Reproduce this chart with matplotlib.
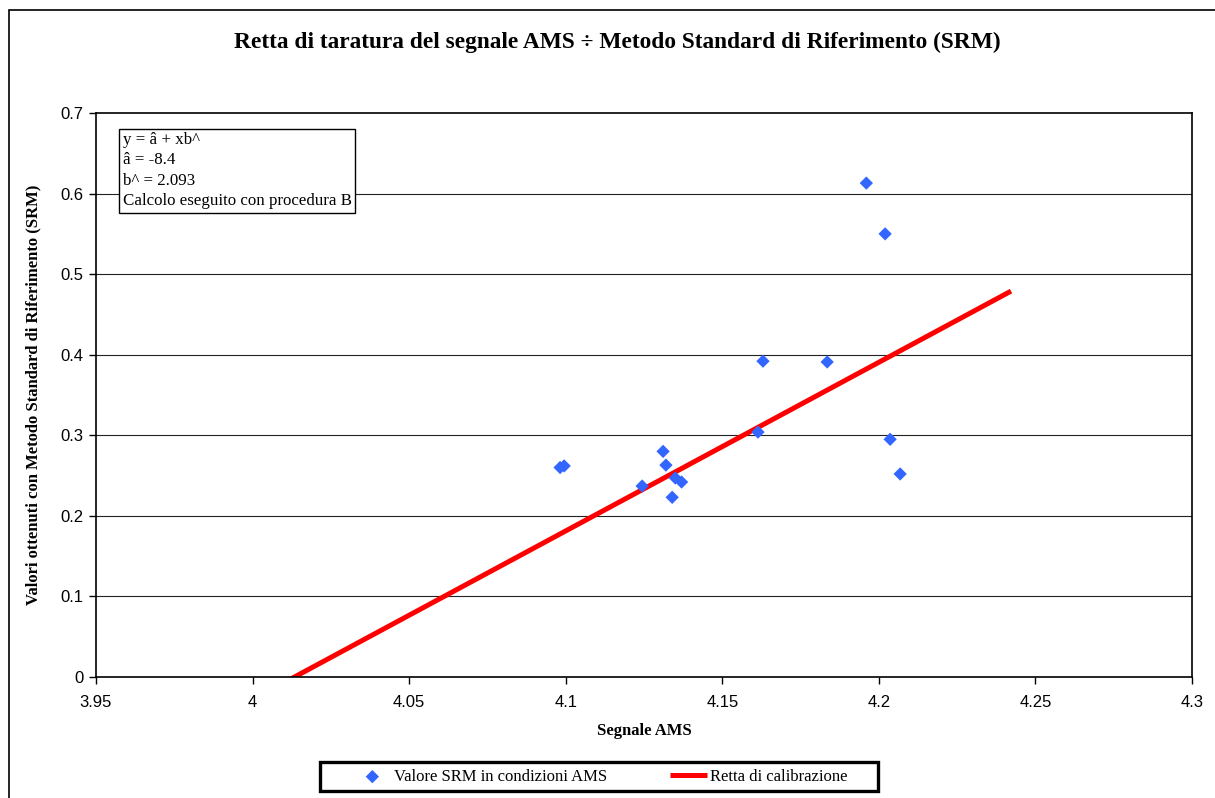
import numpy as np
import matplotlib.pyplot as plt
from matplotlib.patches import Rectangle

# data
segnale_ams = [4.0982, 4.0995, 4.1244, 4.1311, 4.1320, 4.1340, 4.1350, 4.1370,
               4.1614, 4.1630, 4.1835, 4.1960, 4.2020, 4.2036, 4.2068]
valori_srm = [0.260, 0.262, 0.237, 0.280, 0.263, 0.223, 0.247, 0.242,
              0.304, 0.392, 0.391, 0.613, 0.550, 0.295, 0.252]

# calibration line: y = a + x*b
a_hat = -8.4
b_hat = 2.093
retta_x = [4.0113, 4.2422]
retta_y = [a_hat + b_hat * x for x in retta_x]

x_ticks = [3.95, 4.0, 4.05, 4.1, 4.15, 4.2, 4.25, 4.3]
x_tick_labels = ["3.95", "4", "4.05", "4.1", "4.15", "4.2", "4.25", "4.3"]
y_ticks = [0, 0.1, 0.2, 0.3, 0.4, 0.5, 0.6, 0.7]
y_tick_labels = ["0", "0.1", "0.2", "0.3", "0.4", "0.5", "0.6", "0.7"]

W, H = 1215, 798
fig = plt.figure(figsize=(W / 100, H / 100), dpi=100)
fig.patch.set_facecolor("white")

# outer chart border (right and bottom edges fall outside the image)
fig.patches.append(Rectangle((9 / W, -0.1), 1.0, 1.1 - 10 / H, transform=fig.transFigure,
                             fill=False, edgecolor="black", linewidth=1.2))

ax = fig.add_axes([96 / W, 1 - 677 / H, (1192 - 96) / W, (677 - 113) / H])

for yv in y_ticks[1:-1]:
    ax.axhline(yv, color="#222222", linewidth=0.8, zorder=0)

ax.plot(retta_x, retta_y, color="#ff0000", linewidth=3.6, solid_capstyle="butt",
        label="Retta di calibrazione", zorder=2)
ax.scatter(segnale_ams, valori_srm, marker="D", s=46, color="#3366ff",
           edgecolors="none", label="Valore SRM in condizioni AMS", zorder=3)

ax.set_xlim(3.95, 4.3)
ax.set_ylim(0, 0.7)
ax.set_xticks(x_ticks)
ax.set_xticklabels(x_tick_labels)
ax.set_yticks(y_ticks)
ax.set_yticklabels(y_tick_labels)
ax.tick_params(direction="out", length=5, width=1, labelsize=12)
ax.tick_params(axis="x", pad=8)
ax.tick_params(axis="y", pad=4)
for lbl in ax.get_xticklabels() + ax.get_yticklabels():
    lbl.set_family("Liberation Sans")
for sp in ax.spines.values():
    sp.set_linewidth(1.2)
    sp.set_color("black")

ax.set_xlabel("Segnale AMS", family="Liberation Serif", fontweight="bold",
              fontsize=12, labelpad=9)
ax.set_ylabel("Valori ottenuti con Metodo Standard di Riferimento (SRM)",
              family="Liberation Serif", fontweight="bold", fontsize=12, labelpad=14)

fig.text(617 / W, 1 - 42 / H,
         "Retta di taratura del segnale AMS \u00f7 Metodo Standard di Riferimento (SRM)",
         ha="center", va="center", family="Liberation Serif", fontweight="bold",
         fontsize=16.8)

ax.text(0.0245, 0.966,
        "y = \u00e2 + xb^\n\u00e2 = -8.4\nb^ = 2.093\nCalcolo eseguito con procedura B",
        transform=ax.transAxes, ha="left", va="top", family="Liberation Serif",
        fontsize=12.2, linespacing=1.36,
        bbox=dict(boxstyle="square,pad=0.2", facecolor="white", edgecolor="black",
                  linewidth=1))

# legend: frameless content plus a separate heavy box
fig.patches.append(Rectangle((320 / W, 1 - 791 / H), (878 - 320) / W, 29 / H,
                             transform=fig.transFigure, fill=False,
                             edgecolor="black", linewidth=2.4))
handles, labels = ax.get_legend_handles_labels()
leg = fig.legend(handles[::-1], labels[::-1], loc="center",
                 bbox_to_anchor=(601 / W, 1 - 777 / H), ncol=2, frameon=False,
                 columnspacing=3.8, handlelength=2.2, handletextpad=0.2,
                 borderpad=0.2, prop={"family": "Liberation Serif", "size": 12})

fig.savefig("out.png", dpi=100)
